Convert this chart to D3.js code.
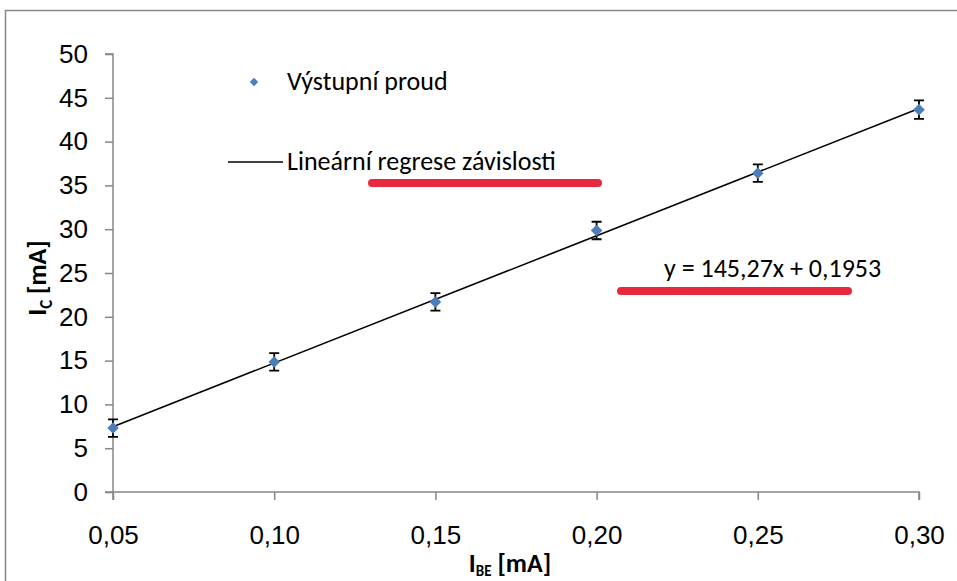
<!DOCTYPE html>
<html>
<head>
<meta charset="utf-8">
<script src="https://cdn.jsdelivr.net/npm/d3@7"></script>
<style>
  body { margin: 0; background: #fff; }
  svg { display: block; font-family: Carlito, Lato, sans-serif; }
</style>
</head>
<body>
<svg width="957" height="581"></svg>
<script>
const svg = d3.select("svg");

// data
const ibe = [0.05, 0.10, 0.15, 0.20, 0.25, 0.30];
const ic = [7.3, 14.85, 21.7, 29.85, 36.4, 43.65];
const icErr = [1.0, 1.0, 1.0, 1.0, 1.0, 1.05];
const slope = 145.27;
const intercept = 0.1953;
const xTicks = [0.05, 0.10, 0.15, 0.20, 0.25, 0.30];
const yTicks = [0, 5, 10, 15, 20, 25, 30, 35, 40, 45, 50];
const seriesName = "Výstupní proud";
const fitName = "Lineární regrese závislosti";
const eqText = "y = 145,27x + 0,1953";

const x = d3.scaleLinear().domain([0.05, 0.30]).range([113, 919]);
const y = d3.scaleLinear().domain([0, 50]).range([492, 54]);
const fmt = d => d.toFixed(2).replace(".", ",");
const fs = "26px";

// outer chart frame (cropped at right/bottom)
svg.append("rect")
  .attr("x", 5.5).attr("y", 10.5)
  .attr("width", 1000).attr("height", 700)
  .attr("fill", "none")
  .attr("stroke", "#888")
  .attr("stroke-width", 1.5);

const axisColor = "#868686";

const gx = svg.append("g")
  .attr("transform", `translate(0,${y(0)})`)
  .call(d3.axisBottom(x).tickValues(xTicks).tickFormat(fmt).tickSize(8).tickPadding(26));
gx.select(".domain").attr("d", `M105,0H919V8`);

const gy = svg.append("g")
  .attr("transform", `translate(${x(0.05)},0)`)
  .call(d3.axisLeft(y).tickValues(yTicks).tickSize(8).tickPadding(17));
gy.select(".domain").attr("d", `M-8,${y(50)}H0V${y(0) + 8}`);

svg.selectAll(".tick line, .domain")
  .attr("stroke", axisColor)
  .attr("stroke-width", 1.5);
svg.selectAll(".tick text")
  .attr("fill", "#000")
  .style("font-size", fs);

// regression line
svg.append("line")
  .attr("x1", x(0.05)).attr("y1", y(slope * 0.05 + intercept))
  .attr("x2", x(0.30)).attr("y2", y(slope * 0.30 + intercept))
  .attr("stroke", "#000")
  .attr("stroke-width", 1.6);

// error bars
const eb = svg.append("g").attr("stroke", "#000").attr("stroke-width", 1.8);
ibe.forEach((v, i) => {
  const cx = x(v), top = y(ic[i] + icErr[i]), bot = y(ic[i] - icErr[i]);
  eb.append("path")
    .attr("fill", "none")
    .attr("d", `M${cx},${top}V${bot}M${cx - 5},${top}H${cx + 5}M${cx - 5},${bot}H${cx + 5}`);
});

// markers
const diamond = d3.symbol().type(d3.symbolDiamond2).size(85);
svg.append("g")
  .selectAll("path")
  .data(ibe)
  .join("path")
  .attr("transform", (d, i) => `translate(${x(d)},${y(ic[i])})`)
  .attr("d", diamond)
  .attr("fill", "#4a7ebb");

// legend
svg.append("path")
  .attr("transform", "translate(254,82)")
  .attr("d", d3.symbol().type(d3.symbolDiamond2).size(45))
  .attr("fill", "#4a7ebb");
svg.append("text")
  .attr("x", 287).attr("y", 90)
  .style("font-size", fs)
  .text(seriesName);
svg.append("line")
  .attr("x1", 228).attr("x2", 283)
  .attr("y1", 162).attr("y2", 162)
  .attr("stroke", "#000").attr("stroke-width", 1.6);
svg.append("text")
  .attr("x", 287).attr("y", 170)
  .style("font-size", fs)
  .text(fitName);

// equation label
svg.append("text")
  .attr("x", 664).attr("y", 277)
  .style("font-size", fs)
  .text(eqText);

// red highlight strokes
svg.append("g")
  .attr("stroke", "#e8283c")
  .attr("stroke-width", 8)
  .attr("stroke-linecap", "round")
  .selectAll("line")
  .data([[372, 598, 183], [621, 848, 291]])
  .join("line")
  .attr("x1", d => d[0]).attr("x2", d => d[1])
  .attr("y1", d => d[2]).attr("y2", d => d[2]);

// axis titles
const yt = svg.append("text")
  .attr("transform", "translate(46,278) rotate(-90)")
  .attr("text-anchor", "middle")
  .style("font-size", fs)
  .style("font-weight", "bold");
yt.append("tspan").text("I");
yt.append("tspan").attr("dy", 6).style("font-size", "17px").text("C");
yt.append("tspan").attr("dy", -6).text(" [mA]");

const xt = svg.append("text")
  .attr("x", 510).attr("y", 572)
  .attr("text-anchor", "middle")
  .style("font-size", fs)
  .style("font-weight", "bold");
xt.append("tspan").text("I");
xt.append("tspan").attr("dy", 4).style("font-size", "15px").text("BE");
xt.append("tspan").attr("dy", -4).text(" [mA]");
</script>
</body>
</html>
